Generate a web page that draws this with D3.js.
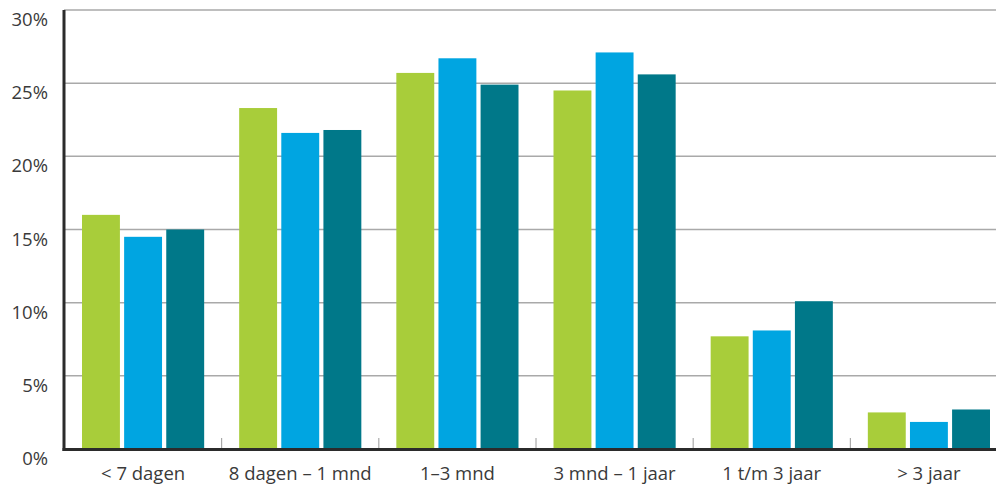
<!DOCTYPE html>
<html>
<head>
<meta charset="utf-8">
<script src="https://cdn.jsdelivr.net/npm/d3@7"></script>
<style>
  html, body { margin: 0; padding: 0; background: #fff; }
  svg { display: block; font-family: "Open Sans", "Noto Sans", sans-serif; }
</style>
</head>
<body>
<svg id="chart" width="996" height="486"></svg>
<script>
// Duur-categorieën en drie reeksen (percentages)
const categories = ["< 7 dagen", "8 dagen – 1 mnd", "1–3 mnd", "3 mnd – 1 jaar", "1 t/m 3 jaar", "> 3 jaar"];
const seriesA = [16.0, 23.3, 25.7, 24.5, 7.7, 2.5];
const seriesB = [14.5, 21.6, 26.7, 27.1, 8.1, 1.85];
const seriesC = [15.0, 21.8, 24.9, 25.6, 10.1, 2.7];
const yTicks = [0, 5, 10, 15, 20, 25, 30];

const seriesNames = ["A", "B", "C"];
const seriesValues = [seriesA, seriesB, seriesC];
const colors = ["#a8cd3a", "#00a5e1", "#007889"];

const svg = d3.select("#chart");
const plotLeft = 64, plotRight = 1007, plotTop = 10, plotBottom = 449;

const x = d3.scaleBand().domain(categories).range([plotLeft, plotRight]).paddingInner(0).paddingOuter(0);
const y = d3.scaleLinear().domain([0, 30]).range([plotBottom, plotTop]);

// inner band for the three bars of a group
const inner = d3.scaleBand().domain(seriesNames)
  .range([18, x.bandwidth() - 17]).paddingInner(0.1).paddingOuter(0);

// horizontal gridlines
svg.append("g").selectAll("line").data(yTicks.filter(d => d > 0)).join("line")
  .attr("x1", plotLeft).attr("x2", 996)
  .attr("y1", d => y(d)).attr("y2", d => y(d))
  .attr("stroke", "#a9a9a9").attr("stroke-width", 1.5);

// y tick labels (set slightly below their gridline)
svg.append("g").selectAll("text").data(yTicks).join("text")
  .attr("x", 48).attr("y", d => y(d) + 16)
  .attr("text-anchor", "end")
  .attr("font-size", 18.5).attr("fill", "#3a3a3a")
  .text(d => d + "%");

// bars
const groups = svg.append("g").selectAll("g").data(categories).join("g")
  .attr("transform", d => `translate(${x(d)},0)`);
groups.selectAll("rect")
  .data((c, i) => seriesNames.map((s, k) => ({ s, v: seriesValues[k][i], k })))
  .join("rect")
  .attr("x", d => inner(d.s))
  .attr("width", inner.bandwidth())
  .attr("y", d => y(d.v))
  .attr("height", d => y(0) - y(d.v))
  .attr("fill", d => colors[d.k]);

// category separators
svg.append("g").selectAll("line").data(categories.slice(1)).join("line")
  .attr("x1", d => x(d) + 0.5).attr("x2", d => x(d) + 0.5)
  .attr("y1", plotBottom - 11).attr("y2", plotBottom)
  .attr("stroke", "#9a9a9a").attr("stroke-width", 1);

// axes lines
svg.append("line").attr("x1", plotLeft - 1.5).attr("x2", 996)
  .attr("y1", plotBottom + 0.5).attr("y2", plotBottom + 0.5)
  .attr("stroke", "#2b2b2b").attr("stroke-width", 3);
svg.append("line").attr("x1", plotLeft).attr("x2", plotLeft)
  .attr("y1", plotTop).attr("y2", plotBottom + 2)
  .attr("stroke", "#2b2b2b").attr("stroke-width", 3);

// category labels
svg.append("g").selectAll("text").data(categories).join("text")
  .attr("x", d => x(d) + 18 + (x.bandwidth() - 35) / 2)
  .attr("y", 480)
  .attr("text-anchor", "middle")
  .attr("font-size", 18.5).attr("fill", "#3a3a3a")
  .text(d => d);
</script>
</body>
</html>
